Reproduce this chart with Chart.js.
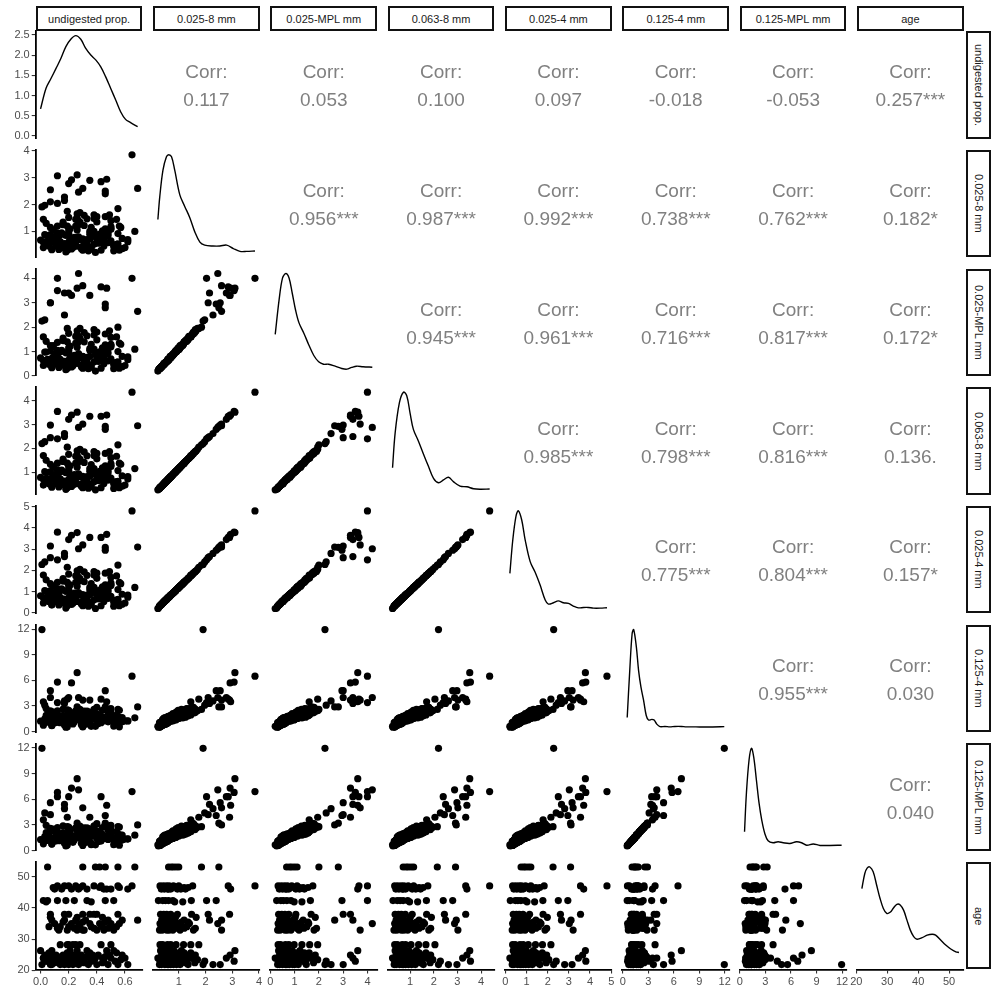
<!DOCTYPE html>
<html>
<head>
<meta charset="utf-8">
<script src="https://cdn.jsdelivr.net/npm/chart.js@4.4.1/dist/chart.umd.min.js"></script>
<style>
  html, body { margin: 0; padding: 0; background: #fff; }
  #fig { position: relative; width: 992px; height: 997px; overflow: hidden;
         font-family: "Liberation Sans", Arial, sans-serif; }
  #fig canvas { position: absolute; }
  .strip { position: absolute; box-sizing: border-box; border: 2px solid #111; background: #fff;
           color: #1a1a1a; font-size: 11px; display: flex; align-items: center;
           justify-content: center; white-space: nowrap; }
  .strip.side span { writing-mode: vertical-rl; }
  .corr { position: absolute; color: #808080; font-size: 19px; line-height: 28px;
          text-align: center; white-space: nowrap; }
</style>
</head>
<body>
<div id="fig"></div>
<script>
// ---- variables (one value per specimen, same order in every array) ----
const varLabels = ["undigested prop.", "0.025-8 mm", "0.025-MPL mm", "0.063-8 mm",
                   "0.025-4 mm", "0.125-4 mm", "0.125-MPL mm", "age"];

const undigested = [
  0.08,0.14,0.20,0.23,0.27,0.34,0.40,0.48,0.55,0.62,
  0.05,0.12,0.19,0.24,0.31,0.36,0.45,0.53,0.02,0.07,
  0.13,0.18,0.22,0.26,0.30,0.35,0.39,0.44,0.50,0.60,
  0.03,0.11,0.16,0.24,0.29,0.37,0.41,0.49,0.58,0.00,
  0.08,0.21,0.33,0.47,0.52,0.14,0.20,0.23,0.25,0.28,
  0.43,0.50,0.13,0.19,0.26,0.31,0.40,0.45,0.52,0.06,
  0.14,0.20,0.28,0.36,0.44,0.50,0.54,0.10,0.22,0.35,
  0.42,0.50,0.56,0.08,0.25,0.32,0.48,0.58,0.17,0.20,
  0.30,0.38,0.40,0.55,0.02,0.05,0.18,0.24,0.33,0.52,
  0.10,0.15,0.22,0.27,0.33,0.45,0.50,0.62,0.12,0.17,
  0.20,0.25,0.30,0.38,0.55,0.05,0.30,0.39,0.42,0.67,
  0.01,0.65,0.03,0.17,0.07,0.20,0.12,0.22,0.26,0.43,
  0.47,0.46,0.55,0.12,0.46,0.07,0.35,0.17,0.27,0.30,
  0.02,0.19,0.69,
  0.10,0.16,0.26,0.31,0.44,0.04,0.21,0.28,0.38,0.57,
  0.09,0.15,0.27,0.33,0.46,0.06,0.19,0.35,0.54,0.12,
  0.24,0.38,0.48,0.16,0.30,0.46,0.07,0.26,0.44,0.09,
  0.28,0.42,0.56,0.04,0.36];

const mm025_8 = [
  0.35,0.62,1.05,0.48,0.80,0.28,1.35,0.58,0.92,0.70,
  0.52,0.95,0.30,0.66,1.22,0.42,0.75,0.38,0.60,1.15,
  0.33,0.85,0.55,1.50,0.45,0.72,0.22,1.02,0.65,0.40,
  0.88,0.46,1.28,0.62,0.36,0.98,0.56,1.62,0.74,0.68,
  0.32,1.10,0.50,0.82,0.44,0.58,0.90,0.40,1.45,0.70,
  0.30,1.18,0.64,0.38,1.05,0.55,1.55,0.78,0.28,0.45,
  0.88,0.60,1.30,0.34,0.72,1.12,0.52,0.75,0.42,1.00,
  0.58,1.40,0.30,0.66,1.20,0.48,0.85,0.36,0.55,0.95,
  0.32,1.48,0.70,0.44,0.40,0.62,0.24,0.78,1.47,0.50,
  0.58,0.95,0.35,1.25,0.70,0.46,1.08,0.62,0.80,0.42,
  1.52,0.64,0.30,1.00,0.54,0.62,0.72,0.80,0.90,1.00,
  1.91,3.85,1.97,2.28,2.55,2.78,3.07,2.92,3.10,2.85,
  2.94,2.50,1.85,2.04,2.40,2.10,2.90,2.15,2.46,2.60,
  1.45,1.75,2.60,
  0.78,1.25,0.45,1.60,0.98,1.30,0.70,1.70,0.52,1.15,
  1.05,0.40,1.38,0.60,1.55,0.50,1.20,0.90,1.45,1.20,
  0.45,1.62,0.95,1.35,0.68,1.10,0.88,1.65,0.58,1.05,
  1.35,0.75,1.20,0.85,1.15];

const mm025_MPL = [
  0.38,0.68,1.15,0.50,0.92,0.30,1.48,0.62,1.00,0.78,
  0.56,1.05,0.32,0.72,1.40,0.45,0.82,0.41,0.64,1.25,
  0.35,0.95,0.58,1.70,0.48,0.80,0.20,1.10,0.70,0.43,
  0.98,0.50,1.45,0.66,0.38,1.08,0.60,1.85,0.80,0.74,
  0.34,1.22,0.54,0.90,0.47,0.62,0.98,0.42,1.62,0.76,
  0.32,1.30,0.70,0.40,1.18,0.60,1.80,0.85,0.30,0.48,
  0.98,0.65,1.50,0.36,0.78,1.25,0.56,0.82,0.45,1.12,
  0.62,1.58,0.32,0.72,1.35,0.52,0.94,0.38,0.60,1.05,
  0.34,1.68,0.76,0.47,0.43,0.68,0.26,0.85,1.65,0.54,
  0.62,1.05,0.37,1.40,0.76,0.50,1.20,0.67,0.88,0.45,
  1.75,0.70,0.32,1.10,0.58,0.67,0.79,0.88,0.99,1.10,
  2.25,4.00,2.30,2.50,3.00,3.40,3.50,3.30,3.60,3.65,
  3.60,2.80,2.00,4.00,2.95,3.00,3.30,3.40,4.20,3.70,
  1.60,1.95,2.65,
  0.90,1.45,0.52,1.78,1.15,1.42,0.82,1.95,0.58,1.30,
  1.25,0.44,1.62,0.70,1.72,0.56,1.40,1.05,1.60,1.38,
  0.52,1.90,1.10,1.55,0.80,1.28,1.02,1.85,0.66,1.20,
  1.55,0.86,1.35,0.98,1.30];

const mm063_8 = [
  0.41,0.72,1.22,0.56,0.93,0.33,1.56,0.67,1.07,0.81,
  0.60,1.10,0.35,0.77,1.41,0.49,0.87,0.44,0.70,1.33,
  0.38,0.98,0.64,1.73,0.52,0.83,0.26,1.18,0.75,0.46,
  1.02,0.53,1.48,0.72,0.41,1.13,0.65,1.87,0.85,0.78,
  0.37,1.27,0.58,0.95,0.51,0.67,1.04,0.46,1.67,0.81,
  0.35,1.36,0.74,0.44,1.21,0.63,1.79,0.90,0.32,0.52,
  1.01,0.69,1.50,0.39,0.83,1.29,0.60,0.86,0.48,1.15,
  0.67,1.61,0.35,0.76,1.38,0.55,0.98,0.41,0.63,1.09,
  0.37,1.70,0.80,0.51,0.46,0.71,0.28,0.90,1.69,0.58,
  0.67,1.09,0.40,1.44,0.81,0.53,1.24,0.71,0.92,0.48,
  1.75,0.74,0.35,1.15,0.62,0.71,0.83,0.92,1.04,1.15,
  2.20,4.36,2.28,2.62,2.98,3.22,3.55,3.40,3.52,3.35,
  3.40,2.92,2.15,2.40,2.80,2.45,3.35,2.50,2.88,3.02,
  1.70,2.05,2.95,
  0.90,1.45,0.52,1.85,1.14,1.50,0.81,1.96,0.60,1.33,
  1.21,0.46,1.59,0.69,1.79,0.58,1.38,1.04,1.67,1.38,
  0.52,1.87,1.09,1.55,0.78,1.27,1.01,1.90,0.67,1.21,
  1.55,0.86,1.38,0.98,1.32];

const mm025_4 = [
  0.40,0.74,1.27,0.57,0.96,0.32,1.63,0.69,1.10,0.84,
  0.62,1.14,0.34,0.79,1.47,0.49,0.90,0.44,0.72,1.38,
  0.38,1.02,0.65,1.81,0.53,0.86,0.21,1.23,0.78,0.47,
  1.05,0.54,1.54,0.74,0.42,1.17,0.66,1.95,0.88,0.81,
  0.37,1.32,0.59,0.98,0.52,0.69,1.08,0.46,1.75,0.84,
  0.34,1.42,0.76,0.44,1.26,0.65,1.87,0.93,0.32,0.53,
  1.05,0.71,1.56,0.39,0.86,1.34,0.61,0.89,0.49,1.20,
  0.69,1.68,0.34,0.78,1.44,0.56,1.01,0.41,0.65,1.14,
  0.37,1.78,0.83,0.52,0.47,0.73,0.23,0.93,1.77,0.59,
  0.69,1.14,0.40,1.50,0.84,0.54,1.29,0.74,0.95,0.49,
  1.83,0.76,0.34,1.20,0.64,0.74,0.86,0.95,1.08,1.20,
  2.28,4.80,2.40,2.80,3.15,3.45,3.80,3.65,3.78,3.55,
  3.70,3.08,2.25,2.50,2.95,2.60,3.55,2.65,3.02,3.20,
  1.78,2.15,3.10,
  0.94,1.50,0.54,1.93,1.18,1.56,0.84,2.05,0.62,1.38,
  1.26,0.47,1.66,0.72,1.87,0.60,1.44,1.08,1.74,1.44,
  0.54,1.95,1.14,1.62,0.82,1.32,1.05,1.98,0.70,1.26,
  1.62,0.90,1.44,1.02,1.38];

const mm125_4 = [
  0.70,1.25,2.10,0.90,1.60,1.05,2.05,1.15,1.80,1.25,
  1.20,2.05,0.57,1.35,2.40,0.80,1.50,1.25,1.10,2.45,
  1.13,1.40,1.18,2.90,0.85,1.45,0.62,1.70,1.28,1.27,
  1.50,1.08,2.65,1.17,0.80,1.90,0.95,2.60,1.65,1.23,
  0.75,2.30,0.97,1.50,1.33,1.05,1.60,1.23,2.25,1.35,
  1.05,1.85,1.30,1.17,1.65,1.15,2.85,1.27,0.65,1.35,
  1.40,1.25,2.60,0.63,1.40,2.25,0.90,1.45,1.27,1.55,
  1.22,2.70,0.57,1.30,2.45,0.87,1.52,1.15,1.00,1.62,
  1.10,2.30,1.35,1.30,0.75,1.25,0.52,1.30,2.40,1.40,
  1.03,1.65,1.15,2.00,1.35,1.35,1.70,1.28,1.85,0.77,
  2.50,1.65,0.55,1.70,1.45,1.10,1.40,1.83,1.40,1.62,
  11.95,6.50,3.10,3.60,4.80,4.00,5.80,5.70,6.90,3.80,
  3.50,2.90,2.60,3.40,4.80,4.00,3.70,3.30,4.00,3.70,
  3.50,3.80,2.90,
  2.10,1.70,1.60,2.20,2.50,2.70,1.90,2.45,1.55,1.60,
  2.25,1.45,2.00,1.80,2.80,1.65,2.55,2.30,1.95,2.45,
  1.55,2.60,2.20,1.90,1.85,2.60,2.05,2.35,1.70,2.30,
  1.85,1.95,2.50,1.90,2.20];

const mm125_MPL = [
  0.77,1.35,2.25,0.97,1.72,1.09,2.30,1.30,1.95,1.35,
  1.28,2.20,0.65,1.42,2.65,0.87,1.62,1.33,1.15,2.60,
  1.17,1.60,1.25,3.20,0.95,1.55,0.68,1.85,1.40,1.35,
  1.65,1.15,2.90,1.23,0.86,2.05,1.07,2.90,1.80,1.30,
  0.80,2.50,1.05,1.65,1.40,1.17,1.78,1.30,2.55,1.48,
  1.11,2.05,1.40,1.25,1.85,1.25,3.15,1.43,0.70,1.43,
  1.55,1.35,2.85,0.70,1.50,2.45,1.00,1.55,1.35,1.70,
  1.30,2.95,0.63,1.42,2.65,0.95,1.68,1.23,1.07,1.80,
  1.15,2.55,1.45,1.37,0.80,1.35,0.55,1.45,2.65,1.50,
  1.13,1.85,1.21,2.25,1.45,1.43,1.90,1.38,1.97,0.85,
  2.75,1.75,0.60,1.88,1.55,1.20,1.50,1.95,1.55,1.80,
  11.95,6.90,4.40,4.90,5.60,6.30,6.80,7.30,8.40,6.30,
  5.30,3.20,2.80,6.30,4.10,4.20,3.90,5.40,7.10,5.00,
  3.60,3.90,3.00,
  2.30,1.90,1.75,2.45,2.70,2.95,2.05,2.75,1.70,1.80,
  2.45,1.60,2.25,1.95,3.05,1.85,2.80,2.55,2.20,2.70,
  1.70,2.90,2.40,2.10,2.05,2.85,2.30,2.60,1.90,2.50,
  2.05,2.15,2.75,2.10,2.45];

const age = [
  21.8,21.8,21.8,21.8,21.8,21.8,21.8,21.8,21.8,21.8,
  22.9,22.9,22.9,22.9,22.9,22.9,22.9,22.9,23.9,23.9,
  23.9,23.9,23.9,23.9,23.9,23.9,23.9,23.9,23.9,23.9,
  24.9,24.9,24.9,24.9,24.9,24.9,24.9,24.9,24.9,26.3,
  26.3,26.3,26.3,26.3,26.3,28.2,28.2,28.2,28.2,28.2,
  28.2,28.2,32.9,32.9,32.9,32.9,32.9,32.9,32.9,34.0,
  34.0,34.0,34.0,34.0,34.0,34.0,34.0,35.0,35.0,35.0,
  35.0,35.0,35.0,36.1,36.1,36.1,36.1,36.1,38.0,38.0,
  38.0,38.0,38.0,38.0,42.4,42.4,42.4,42.4,42.4,42.4,
  46.1,46.1,46.1,46.1,46.1,46.1,46.1,46.1,47.1,47.1,
  47.1,47.1,47.1,47.1,47.1,53.2,53.2,53.2,53.2,53.2,
  21.8,47.1,22.9,21.8,21.8,23.9,22.9,24.9,26.3,47.1,
  46.1,53.2,53.2,42.4,42.4,38.0,38.0,36.1,35.0,32.9,
  23.9,28.2,36.1,
  22.4,22.4,22.4,22.4,22.4,23.4,23.4,23.4,23.4,23.4,
  24.4,24.4,24.4,24.4,24.4,25.6,25.6,25.6,25.6,33.5,
  33.5,33.5,33.5,35.5,35.5,35.5,37.0,37.0,37.0,46.6,
  46.6,46.6,46.6,42.0,42.0];

// ---- kernel density curves for the diagonal ----
const densUndigestedX = [0.00,0.039,0.074,0.11,0.145,0.18,0.215,0.25,0.286,0.32,0.357,0.392,0.428,0.463,0.498,0.534,0.569,0.604,0.64,0.69];
const densUndigestedY = [0.67,1.18,1.42,1.67,1.92,2.21,2.39,2.48,2.39,2.17,2.00,1.88,1.71,1.46,1.18,0.89,0.60,0.41,0.33,0.23];
const dens025_8X = [0.22,0.29,0.41,0.54,0.625,0.73,0.85,1.04,1.22,1.41,1.60,1.79,1.97,2.28,2.54,2.79,3.04,3.29,3.54,3.85];
const dens025_8Y = [0.32,0.54,0.80,0.93,0.95,0.93,0.80,0.56,0.45,0.34,0.20,0.10,0.071,0.062,0.062,0.071,0.038,0.010,0.010,0.014];
const dens025_MPLX = [0.20,0.36,0.50,0.64,0.77,0.90,1.04,1.18,1.38,1.58,1.79,1.99,2.19,2.40,2.67,2.94,3.15,3.35,3.55,3.82,4.20];
const dens025_MPLY = [0.32,0.62,0.81,0.85,0.81,0.68,0.53,0.42,0.33,0.23,0.136,0.081,0.060,0.060,0.043,0.023,0.017,0.032,0.043,0.038,0.034];
const dens063_8X = [0.26,0.37,0.55,0.72,0.86,1.00,1.14,1.35,1.56,1.78,1.99,2.20,2.41,2.62,2.83,3.11,3.40,3.68,3.96,4.36];
const dens063_8Y = [0.19,0.49,0.75,0.84,0.81,0.66,0.52,0.42,0.31,0.20,0.099,0.061,0.085,0.108,0.070,0.032,0.026,0.009,0.005,0.007];
const dens025_4X = [0.21,0.35,0.50,0.61,0.77,0.93,1.17,1.40,1.64,1.88,2.03,2.27,2.50,2.74,2.98,3.21,3.45,3.69,3.92,4.16,4.48,4.80];
const dens025_4Y = [0.27,0.53,0.71,0.75,0.68,0.53,0.36,0.28,0.18,0.065,0.034,0.044,0.059,0.044,0.039,0.019,0.005,0.008,0.008,0.003,0.003,0.006];
const dens125_4X = [0.52,0.82,1.10,1.28,1.60,1.86,2.14,2.44,2.76,3.03,3.42,3.69,4.00,4.38,4.96,5.54,6.13,6.90,7.48,9.03,10.57,11.95];
const dens125_4Y = [0.050,0.29,0.48,0.50,0.41,0.29,0.205,0.14,0.06,0.037,0.040,0.037,0.016,0.003,0.004,0.002,0.004,0.004,0.002,0.0015,0.0015,0.003];
const dens125_MPLX = [0.55,0.77,1.08,1.36,1.63,1.95,2.26,2.57,2.93,3.32,3.90,4.49,5.08,5.87,6.66,7.25,7.84,8.62,9.41,10.58,11.95];
const dens125_MPLY = [0.058,0.216,0.352,0.40,0.364,0.268,0.174,0.106,0.051,0.021,0.013,0.017,0.013,0.010,0.017,0.013,0.003,0.008,0.002,0.002,0.003];
const densAgeX = [21.8,22.75,23.5,24.38,25.46,26.57,27.66,28.75,29.84,30.93,32.02,33.12,34.2,35.29,36.38,37.47,38.56,39.65,41.29,42.93,44.56,45.65,47.28,48.92,50.55,52.19,53.2];
const densAgeY = [0.035,0.042,0.0445,0.045,0.0428,0.0367,0.0306,0.0259,0.0236,0.0241,0.0261,0.0278,0.0275,0.0251,0.0205,0.0159,0.0129,0.0117,0.0124,0.0136,0.014,0.0136,0.0113,0.009,0.0072,0.0059,0.0056];

// ---- correlation labels, upper triangle, row by row ----
const corrLabels = [
  "0.117", "0.053", "0.100", "0.097", "-0.018", "-0.053", "0.257***",
  "0.956***", "0.987***", "0.992***", "0.738***", "0.762***", "0.182*",
  "0.945***", "0.961***", "0.716***", "0.817***", "0.172*",
  "0.985***", "0.798***", "0.816***", "0.136.",
  "0.775***", "0.804***", "0.157*",
  "0.955***", "0.030",
  "0.040"];

// ---- axis ticks ----
const axisTicks = [[0, 0.2, 0.4, 0.6], [1, 2, 3, 4], [0, 1, 2, 3, 4], [1, 2, 3, 4],
                   [0, 1, 2, 3, 4, 5], [0, 3, 6, 9, 12], [0, 3, 6, 9, 12], [20, 30, 40, 50]];
const axisDecimals = [1, 0, 0, 0, 0, 0, 0, 0];
const densityTicks = [0, 0.5, 1, 1.5, 2, 2.5];

// ---------------------------------------------------------------
const series = [undigested, mm025_8, mm025_MPL, mm063_8, mm025_4, mm125_4, mm125_MPL, age];
const densities = [
  [densUndigestedX, densUndigestedY], [dens025_8X, dens025_8Y], [dens025_MPLX, dens025_MPLY],
  [dens063_8X, dens063_8Y], [dens025_4X, dens025_4Y], [dens125_4X, dens125_4Y],
  [dens125_MPLX, dens125_MPLY], [densAgeX, densAgeY]];

const FONT = '"Liberation Sans", Arial, sans-serif';
const FIG_H = 997;
const N = varLabels.length;
const COL0 = 35.7, COLP = 117.33, PW = 106.8;
const ROW0 = 31.2, ROWP = 118.7, PH = 107.4;
const M = 12;
const px = c => COL0 + c * COLP;
const py = r => ROW0 + r * ROWP;
const fig = document.getElementById('fig');

// data range of each variable plus 5% on both sides
const limits = series.map(a => {
  const lo = Math.min(...a), hi = Math.max(...a), pad = (hi - lo) * 0.05;
  return [lo - pad, hi + pad];
});
const densityLimits = densities.map(([, ys], i) => {
  if (i === 0) return [-0.065, 2.59];
  const hi = Math.max(...ys);
  return [-0.05 * hi, 1.05 * hi];
});

function axis(range, show, ticks, dec, fit) {
  const o = { type: 'linear', min: range[0], max: range[1], display: show };
  if (show) {
    Object.assign(o, {
      border: { display: true, color: '#000', width: 1.8 },
      grid: { display: true, drawOnChartArea: false, drawTicks: true, tickLength: 4,
              color: '#333', tickColor: '#333', lineWidth: 1.1 },
      ticks: { autoSkip: false, maxRotation: 0, minRotation: 0, padding: 2, color: '#4d4d4d',
               font: { family: FONT, size: 11 }, callback: v => Number(v).toFixed(dec) },
      afterBuildTicks: s => { s.ticks = ticks.map(v => ({ value: v })); },
      afterFit: fit
    });
  }
  return o;
}

function panel(r, c, type, datasets, yRange, yTicks, yDec) {
  const x0 = px(c), y0 = py(r), x1 = x0 + PW, y1 = y0 + PH;
  const showY = c === 0, showX = r === N - 1;
  const cl = showY ? 0 : Math.floor(x0 - M);
  const ct = Math.floor(y0 - M);
  const cr = Math.ceil(x1 + M);
  const cb = showX ? FIG_H : Math.ceil(y1 + M);
  const cv = document.createElement('canvas');
  cv.width = cr - cl; cv.height = cb - ct;
  cv.style.left = cl + 'px'; cv.style.top = ct + 'px';
  cv.style.width = (cr - cl) + 'px'; cv.style.height = (cb - ct) + 'px';
  fig.appendChild(cv);
  new Chart(cv, {
    type,
    data: { datasets },
    options: {
      responsive: false, animation: false, devicePixelRatio: 1, events: [],
      layout: { padding: { left: showY ? 0 : x0 - cl, right: cr - x1,
                           top: y0 - ct, bottom: showX ? 0 : cb - y1 } },
      plugins: { legend: { display: false }, tooltip: { enabled: false } },
      scales: {
        x: axis(limits[c], showX, axisTicks[c], axisDecimals[c], s => { s.height = cb - y1; }),
        y: axis(yRange, showY, yTicks, yDec, s => { s.width = x0; })
      }
    }
  });
}

for (let r = 0; r < N; r++) {
  for (let c = 0; c < N; c++) {
    if (c < r) {
      // lower triangle: scatter of column variable against row variable
      const pts = series[c].map((v, i) => ({ x: v, y: series[r][i] }));
      panel(r, c, 'scatter', [{ data: pts, pointRadius: 3.6, pointHoverRadius: 3.6,
        backgroundColor: '#000', borderWidth: 0 }], limits[r], axisTicks[r], axisDecimals[r]);
    } else if (c === r) {
      const [xs, ys] = densities[r];
      const pts = xs.map((v, i) => ({ x: v, y: ys[i] }));
      panel(r, c, 'line', [{ data: pts, borderColor: '#000', borderWidth: 1.4, pointRadius: 0,
        tension: 0.35, fill: false }], densityLimits[r], densityTicks, 1);
    }
  }
}

// upper triangle: correlation text
let k = 0;
for (let r = 0; r < N; r++) {
  for (let c = r + 1; c < N; c++) {
    const d = document.createElement('div');
    d.className = 'corr';
    d.style.left = px(c) + 'px';
    d.style.width = PW + 'px';
    d.style.top = (py(r) + PH / 2 + 1.5 - 28) + 'px';
    d.innerHTML = 'Corr:<br>' + corrLabels[k++];
    fig.appendChild(d);
  }
}

// facet strips: variable names on top and on the right
varLabels.forEach((name, i) => {
  const top = document.createElement('div');
  top.className = 'strip';
  top.style.left = px(i) + 'px'; top.style.width = PW + 'px';
  top.style.top = '6px'; top.style.height = '25px';
  top.textContent = name;
  fig.appendChild(top);

  const side = document.createElement('div');
  side.className = 'strip side';
  side.style.left = '966px'; side.style.width = '25px';
  side.style.top = py(i) + 'px'; side.style.height = PH + 'px';
  const s = document.createElement('span');
  s.textContent = name;
  side.appendChild(s);
  fig.appendChild(side);
});
</script>
</body>
</html>
